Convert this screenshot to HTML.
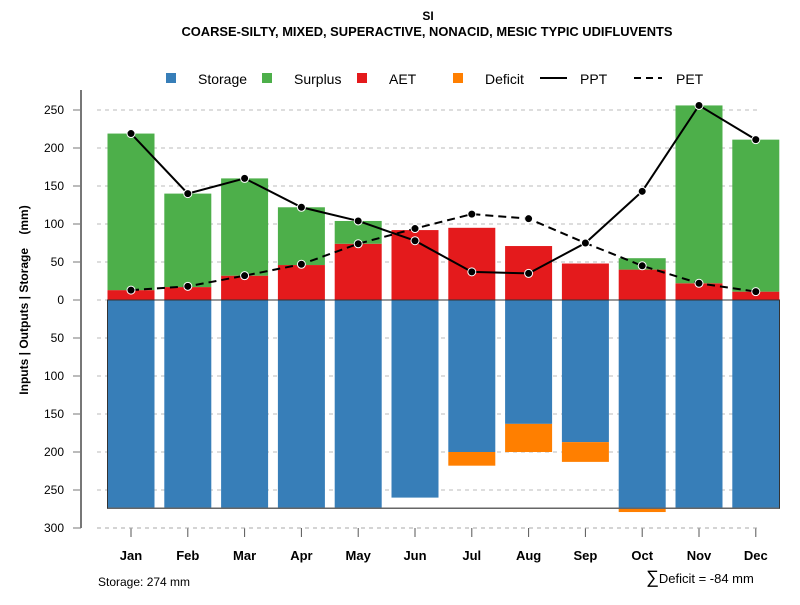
<!DOCTYPE html>
<html><head><meta charset="utf-8"><style>
body{margin:0;background:#fff}
svg{font-family:"Liberation Sans",sans-serif}
</style></head><body>
<svg id="c" width="800" height="600">
<text x="428" y="20" text-anchor="middle" font-size="12" font-weight="bold">SI</text>
<text x="427" y="36" text-anchor="middle" font-size="12.9" font-weight="bold">COARSE-SILTY, MIXED, SUPERACTIVE, NONACID, MESIC TYPIC UDIFLUVENTS</text>
<g id="legend" font-size="14">
<g><rect x="166" y="73" width="10" height="10" fill="#377eb8"/><text x="198" y="84">Storage</text></g>
<g><rect x="262" y="73" width="10" height="10" fill="#4daf4a"/><text x="294" y="84">Surplus</text></g>
<g><rect x="357" y="73" width="10" height="10" fill="#e41a1c"/><text x="389" y="84">AET</text></g>
<g><rect x="453" y="73" width="10" height="10" fill="#ff7f00"/><text x="485" y="84">Deficit</text></g>
<g><line x1="540" y1="78" x2="567" y2="78" stroke="#000" stroke-width="2"/><text x="580" y="84">PPT</text></g>
<g><line x1="634" y1="78" x2="662" y2="78" stroke="#000" stroke-width="2" stroke-dasharray="7,5"/><text x="676" y="84">PET</text></g>
</g>
<text transform="translate(28,300) rotate(-90)" text-anchor="middle" font-size="12" font-weight="bold" xml:space="preserve">Inputs | Outputs | Storage    (mm)</text>
<text x="98" y="586" font-size="12">Storage: 274 mm</text>
<text x="646" y="583" font-size="13"><tspan font-size="18">∑</tspan>Deficit = -84 mm</text>
</svg>
<script>
const months=["Jan","Feb","Mar","Apr","May","Jun","Jul","Aug","Sep","Oct","Nov","Dec"];
const ppt=[219,140,160,122,104,78,37,35,75,143,256,211];
const pet=[13,18,32,47,74,94,113,107,75,45,22,11];
const aet=[13,17,32,46,74,92,95,71,48,40,22,11];
const storage=[274,274,274,274,274,260,200,163,187,274,274,274];
const deficit=[0,0,0,0,0,0,18,37,26,5,0,0];
const surplus=[206,123,128,76,30,0,0,0,0,15,234,200];
const yTicks=[250,200,150,100,50,0,-50,-100,-150,-200,-250,-300];
const yTickLabels=["250","200","150","100","50","0","50","100","150","200","250","300"];
const storageCap=274;

const NS="http://www.w3.org/2000/svg",svg=document.getElementById('c');
const y=v=>300-v*0.76, x=i=>131+i*56.8, bw=47;
function mk(t,a,p){const e=document.createElementNS(NS,t);for(const k in a)e.setAttribute(k,a[k]);(p||svg).appendChild(e);return e;}
const ax=mk('g',{});


mk('line',{x1:81,y1:90,x2:81,y2:528,stroke:'#777','stroke-width':2},ax);
yTicks.forEach((t,i)=>{
  mk('line',{x1:97,y1:y(t),x2:760,y2:y(t),stroke:'#bbb','stroke-dasharray':'4,4'},ax);
  mk('line',{x1:73,y1:y(t),x2:81,y2:y(t),stroke:'#777'},ax);
  const tx=mk('text',{x:64,y:y(t)+4,'text-anchor':'end','font-size':12},ax);tx.textContent=yTickLabels[i];
});
const xa=mk('g',{});


months.forEach((m,i)=>{
  mk('line',{x1:x(i),y1:528,x2:x(i),y2:537,stroke:'#555'},xa);
  const t=mk('text',{x:x(i),y:560,'text-anchor':'middle','font-size':13,'font-weight':'bold'},xa);t.textContent=m;
});
const bars=mk('g',{});


months.forEach((m,i)=>{
  const l=x(i)-bw/2;
  let r=mk('rect',{x:l,y:y(0),width:bw,height:y(-storage[i])-y(0),fill:'#377eb8'},bars);
  
  
  if(deficit[i]>0){r=mk('rect',{x:l,y:y(-storage[i]),width:bw,height:deficit[i]*0.76,fill:'#ff7f00'},bars);
  
  }
  r=mk('rect',{x:l,y:y(aet[i]),width:bw,height:aet[i]*0.76,fill:'#e41a1c'},bars);
  
  
  if(surplus[i]>0){r=mk('rect',{x:l,y:y(aet[i]+surplus[i]),width:bw,height:surplus[i]*0.76,fill:'#4daf4a'},bars);
  
  }
});
const box=mk('g',{});


mk('line',{x1:107,y1:y(0),x2:780,y2:y(0),stroke:'#333'},box);
mk('line',{x1:107,y1:y(-storageCap),x2:780,y2:y(-storageCap),stroke:'#666','stroke-width':1.5},box);
mk('line',{x1:107.5,y1:y(0),x2:107.5,y2:y(-storageCap),stroke:'#333'},box);
mk('line',{x1:779.5,y1:y(0),x2:779.5,y2:y(-storageCap),stroke:'#333'},box);
mk('line',{x1:97,y1:528,x2:760,y2:528,stroke:'#aaa','stroke-dasharray':'4,4'},box);
function series(vals,name,dash){
  const g=mk('g',{});
  
  
  const a={points:vals.map((v,i)=>x(i)+','+y(v)).join(' '),fill:'none',stroke:'#000','stroke-width':2};
  if(dash)a['stroke-dasharray']='8,5';
  mk('polyline',a,g);
  vals.forEach((v,i)=>{const c=mk('circle',{cx:x(i),cy:y(v),r:4,fill:'#000',stroke:'#fff','stroke-width':1},g);
    
    });
}
series(pet,'pet-line',true);
series(ppt,'ppt-line',false);
</script>
</body></html>
